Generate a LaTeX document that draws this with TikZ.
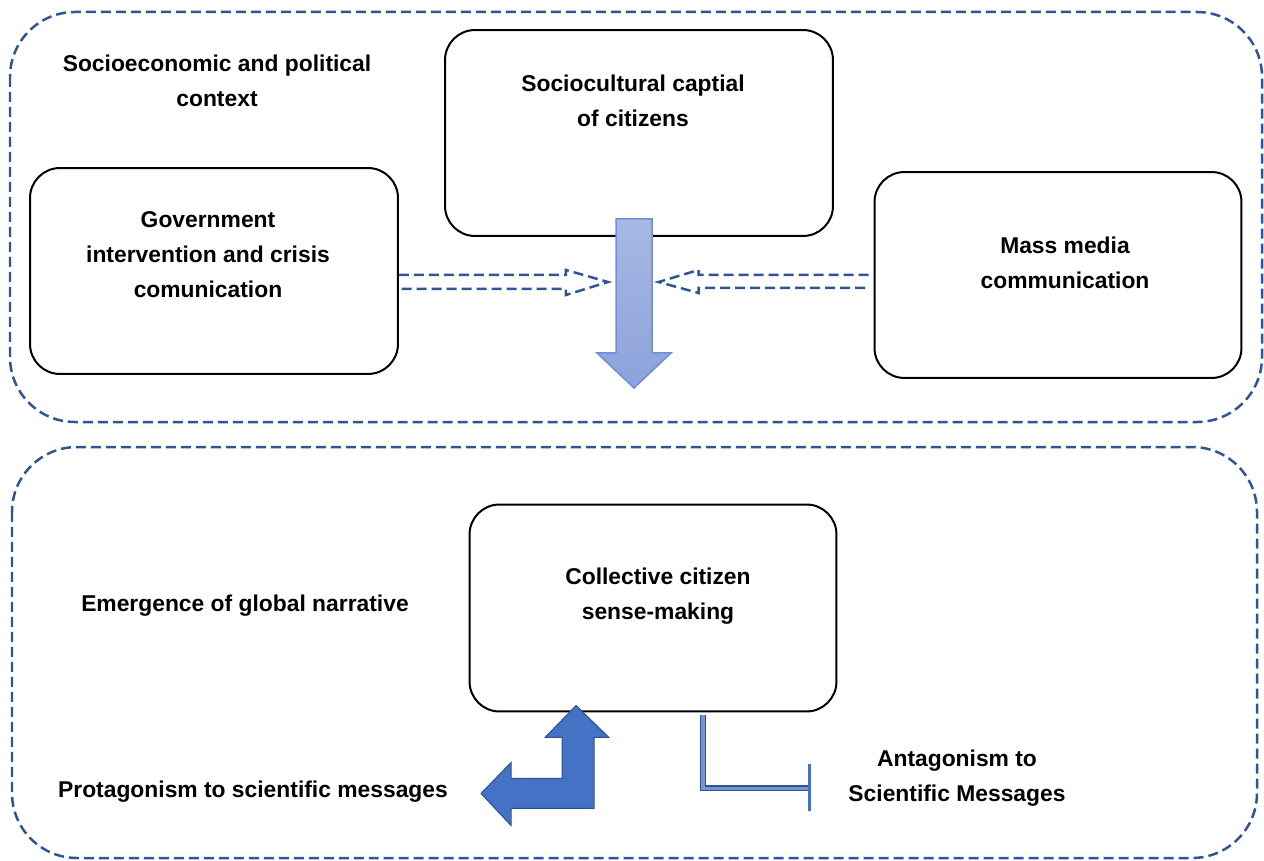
\documentclass[tikz,border=0pt]{standalone}
\usepackage{fontspec}
\setmainfont{Liberation Sans}
\usetikzlibrary{positioning,arrows.meta,calc}
\definecolor{frameblue}{RGB}{47,85,151}
\definecolor{arrowblue}{RGB}{68,114,196}
\definecolor{arrowedge}{RGB}{47,82,143}
\definecolor{paletop}{RGB}{168,184,228}
\definecolor{palebottom}{RGB}{140,162,218}
\definecolor{paleedge}{RGB}{112,142,214}

\begin{document}
\begin{tikzpicture}[
  x=0.02cm, y=-0.02cm,
  every node/.style={font=\fontsize{13}{20}\selectfont\bfseries, align=center},
  frame/.style={draw=frameblue, line width=0.05cm,
    dash pattern=on 0.2cm off 0.1cm, rounded corners=1.3cm},
  box/.style={draw, line width=0.04cm, rounded corners=0.6cm,
    minimum width=7.36cm, minimum height=4.12cm},
  hollowarrow/.style={draw=frameblue, line width=0.05cm,
    dash pattern=on 0.2cm off 0.1cm},
  antline/.style={draw=arrowedge, line width=0.025cm,
    double=arrowblue!75, double distance=0.07cm},
]
\useasboundingbox (0,0) rectangle (1264,861);
% the two contexts
\draw[frame] (10,12) rectangle (1262,422);
\draw[frame] (12,447) rectangle (1257,858);
\node (context) at (217,81) {Socioeconomic and political\\context};
\node (global) at (245,606) {Emergence of global narrative};

% upper boxes
\node[box] (gov) at (214,271) {};
\node (govtext) at ($(gov)+(-6,-16)$)
  {Government\\intervention and crisis\\comunication};
\node[box, minimum width=7.76cm] (soc) at (639,133) {};
\node (soctext) at ($(soc)+(-6,-32)$) {Sociocultural captial\\of citizens};
\node[box, minimum width=7.34cm] (media) at (1058,275) {};
\node (mediatext) at ($(media)+(7,-12)$) {Mass media\\communication};

% flows towards the middle
\coordinate (govout) at ($(gov.east)+(0,11)$);
\draw[hollowarrow, shift={(govout)}]
  (0,-7) -- (167,-7) -- (167,-12) -- (209,0) -- (167,13) -- (167,7) -- (0,7);
\coordinate (mediaout) at ($(media.west)+(-5,7)$);
\draw[hollowarrow, shift={(mediaout)}]
  (0,-7) -- (-170,-7) -- (-170,-12) -- (-210,0) -- (-170,11) -- (-170,6) -- (0,6);
\coordinate (flow) at ($(soc.south)+(-5,-18)$);
\path[top color=paletop, bottom color=palebottom, draw=paleedge,
  line width=0.03cm, shift={(flow)}]
  (-18,0) -- (18,0) -- (18,134) -- (37,134) -- (0,169) -- (-37,134)
  -- (-18,134) -- cycle;

% lower box
\node[box, minimum width=7.34cm, minimum height=4.14cm] (collect) at (653,608) {};
\node (collecttext) at ($(collect)+(5,-12)$) {Collective citizen\\ sense-making};

% protagonism
\coordinate (protout) at ($(collect.south)+(-77,-7)$);
\filldraw[fill=arrowblue, draw=arrowedge, line width=0.02cm, shift={(protout)}]
  (0,0) -- (33,32) -- (18,32) -- (18,103) -- (-65,103) -- (-65,120)
  -- (-95,88) -- (-65,57) -- (-65,73) -- (-14,73) -- (-14,32)
  -- (-31,32) -- cycle;
\node (protag) at (253,792) {Protagonism to scientific messages};

% antagonism
\coordinate (antstart) at ($(collect.south)+(50,3)$);
\coordinate (antend) at ($(antstart)+(106,73)$);
\draw[antline] (antstart) |- (antend);
\draw[arrowblue, line width=0.06cm] ($(antend)+(0,-24)$) -- ($(antend)+(0,23)$);
\node (antag) at (957,778) {Antagonism to\\Scientific Messages};
\end{tikzpicture}
\end{document}
